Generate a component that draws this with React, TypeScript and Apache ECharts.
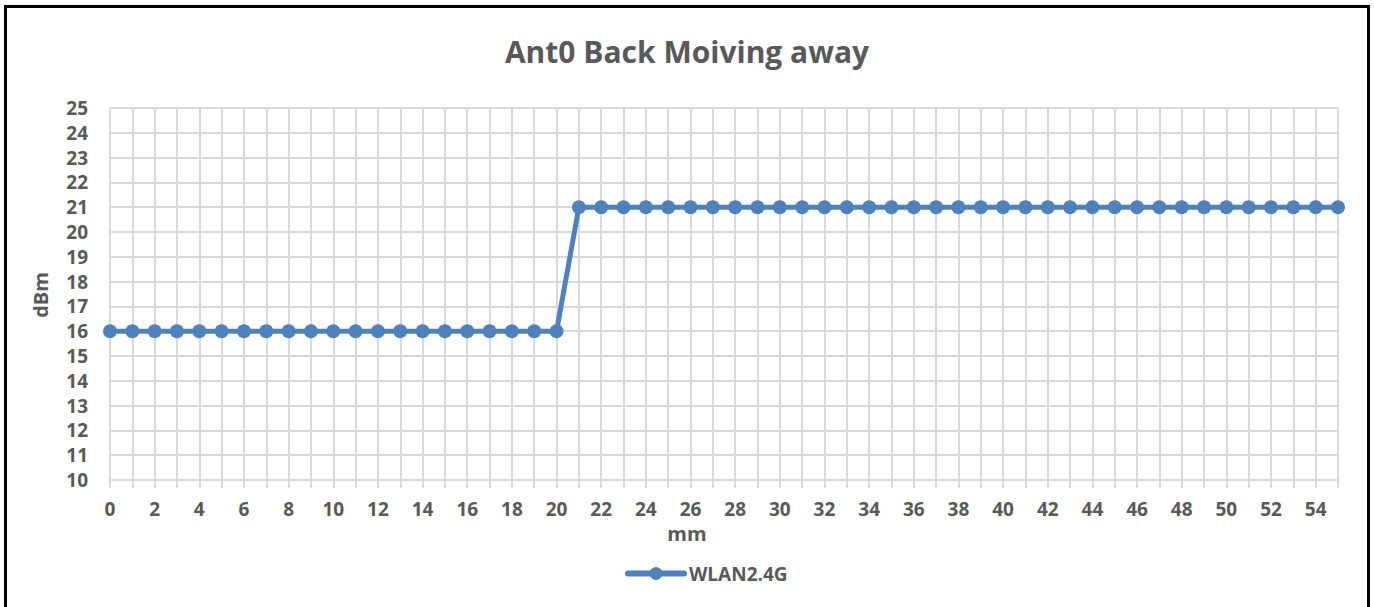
import React, { useEffect, useRef } from "react";
import * as echarts from "echarts";

const categories: string[] = Array.from({ length: 56 }, (_, i) => String(i));
const wlanValues: number[] = [
  16, 16, 16, 16, 16, 16, 16, 16, 16, 16, 16, 16, 16, 16, 16, 16, 16, 16, 16, 16, 16,
  21, 21, 21, 21, 21, 21, 21, 21, 21, 21, 21, 21, 21, 21, 21, 21, 21, 21, 21, 21,
  21, 21, 21, 21, 21, 21, 21, 21, 21, 21, 21, 21, 21, 21, 21,
];
const seriesName = "WLAN2.4G";
const titleText = "Ant0 Back Moiving away";
const yName = "dBm";
const xName = "mm";

const FONT = "'Open Sans', 'Liberation Sans', sans-serif";
const TXT = "#595959";
const GRID = "#d9d9d9";
const BLUE = "#4f81bd";

export default function App() {
  const ref = useRef<HTMLDivElement>(null);
  useEffect(() => {
    if (!ref.current) return;
    const chart = echarts.init(ref.current, undefined, { renderer: "svg" });
    chart.setOption({
      animation: false,
      backgroundColor: "#ffffff",
      title: {
        text: titleText,
        left: "center",
        top: 31,
        textStyle: { fontFamily: FONT, fontSize: 30, fontWeight: "bold", color: TXT },
      },
      graphic: [
        {
          type: "rect",
          shape: { x: 5.5, y: 6.5, width: 1363, height: 620 },
          style: { fill: "none", stroke: "#000", lineWidth: 3 },
          silent: true,
        },
        {
          type: "text",
          x: 40,
          y: 295,
          rotation: Math.PI / 2,
          style: {
            text: yName,
            font: `bold 20px ${FONT}`,
            fill: TXT,
            align: "center",
            verticalAlign: "middle",
          },
        },
        {
          type: "text",
          x: 687,
          y: 533,
          style: {
            text: xName,
            font: `bold 20px ${FONT}`,
            fill: TXT,
            align: "center",
            verticalAlign: "middle",
          },
        },
      ],
      legend: {
        data: [{ name: seriesName, lineStyle: { width: 6, cap: "round" } }],
        left: 620,
        top: 559,
        itemWidth: 56,
        itemHeight: 16,
        itemGap: 6,
        lineStyle: { width: 6, cap: "round" },
        textStyle: { fontFamily: FONT, fontSize: 19, fontWeight: "bold", color: TXT, padding: [0, 0, 0, 0] },
      },
      grid: { left: 110, right: 36, top: 108, bottom: 127, containLabel: false },
      xAxis: {
        type: "category",
        data: categories,
        boundaryGap: false,
        axisLine: { show: true, lineStyle: { color: GRID, width: 2 } },
        axisTick: { show: true, alignWithLabel: true, interval: 0, length: 8, lineStyle: { color: GRID, width: 2 } },
        axisLabel: {
          interval: 1,
          margin: 19,
          fontFamily: FONT,
          fontSize: 19,
          fontWeight: "bold",
          color: TXT,
        },
        splitLine: { show: true, interval: 0, lineStyle: { color: GRID, width: 2 } },
      },
      yAxis: {
        type: "value",
        min: 10,
        max: 25,
        interval: 1,
        axisLine: { show: false },
        axisTick: { show: false },
        axisLabel: {
          margin: 22,
          fontFamily: FONT,
          fontSize: 19,
          fontWeight: "bold",
          color: TXT,
        },
        splitLine: { show: true, lineStyle: { color: GRID, width: 2 } },
      },
      series: [
        {
          name: seriesName,
          type: "line",
          data: wlanValues,
          symbol: "circle",
          symbolSize: 14,
          showSymbol: true,
          showAllSymbol: true,
          itemStyle: { color: BLUE },
          lineStyle: { color: BLUE, width: 5 },
        },
      ],
    });
    return () => chart.dispose();
  }, []);
  return (
    <div
      ref={ref}
      style={{ position: "fixed", left: 0, top: 0, width: 1374, height: 607 }}
    />
  );
}
